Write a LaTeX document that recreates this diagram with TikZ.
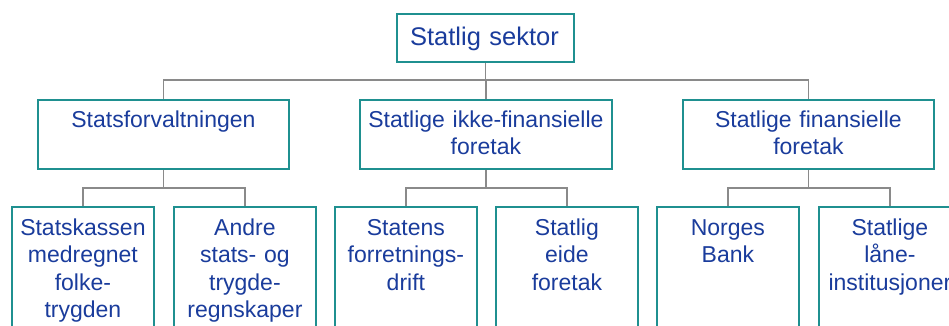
\documentclass[tikz,border=0pt]{standalone}
\usepackage{fontspec}
\setmainfont{Liberation Sans}
\definecolor{boxline}{HTML}{1F9090}
\definecolor{inkblue}{HTML}{1A3C9C}
\definecolor{wire}{HTML}{8A8A8A}
\begin{document}
\begin{tikzpicture}[x=1pt,y=-1pt,
  box/.style={draw=boxline, line width=1.8pt, fill=white, inner sep=0pt, anchor=north west},
  lbl/.style={text=inkblue, inner sep=0pt, anchor=base, align=center, text width=#1},
  lbl/.default=140pt,
  conn/.style={draw=wire, line width=1.8pt}]
\useasboundingbox (0,0) rectangle (949,325);
\begin{scope}
\clip (0,0) rectangle (949,325);

% top level
\node[box, minimum width=177pt, minimum height=48pt] (top) at (396,13) {};
\node[lbl=200pt, font=\fontsize{25.5}{30}\selectfont] (top-t) at (484.5,45) {Statlig sektor};

% second level
\node[box, minimum width=251pt, minimum height=69pt] (sf) at (37,99) {};
\node[box, minimum width=252pt, minimum height=69pt] (ikf) at (359,99) {};
\node[box, minimum width=251pt, minimum height=69pt] (fin) at (682,99) {};
\begin{scope}[font=\fontsize{23}{27}\selectfont]
\node[lbl=250pt] (sf-t) at (sf.north |- 0,127) {Statsforvaltningen};
\node[lbl=250pt] (ikf-t) at (ikf.north |- 0,127) {Statlige ikke-finansielle\\foretak};
\node[lbl=250pt] (fin-t) at (fin.north |- 0,127) {Statlige finansielle\\foretak};
\end{scope}

% third level
\foreach \n/\x in {sk/11, an/173, sd/334, se/495, nb/656, sl/818}
  \node[box, minimum width=142pt, minimum height=130pt] (\n) at (\x,206) {};
\begin{scope}[font=\fontsize{23}{27.5}\selectfont]
\node[lbl] (sk-t) at (sk.north |- 0,235) {Statskassen\\medregnet\\folke-\\trygden};
\node[lbl] (an-t) at (an.north |- 0,235) {Andre\\stats- og\\trygde-\\regnskaper};
\node[lbl] (sd-t) at (sd.north |- 0,235) {Statens\\forretnings-\\drift};
\node[lbl] (se-t) at (se.north |- 0,235) {Statlig\\eide\\foretak};
\node[lbl] (nb-t) at (nb.north |- 0,235) {Norges\\Bank};
\node[lbl] (sl-t) at (sl.north |- 0,235) {Statlige\\låne-\\institusjoner};
\end{scope}

% connectors
\coordinate (bus0) at (0,80);
\coordinate (bus1) at (0,188);
\foreach \c in {sf, ikf, fin}
  \draw[conn] (top.south) -- (top.south |- bus0) -| (\c.north);
\foreach \p/\c in {sf/sk, sf/an, ikf/sd, ikf/se, fin/nb, fin/sl}
  \draw[conn] (\p.south) -- (\p.south |- bus1) -| (\c.north);
\end{scope}
\end{tikzpicture}
\end{document}
